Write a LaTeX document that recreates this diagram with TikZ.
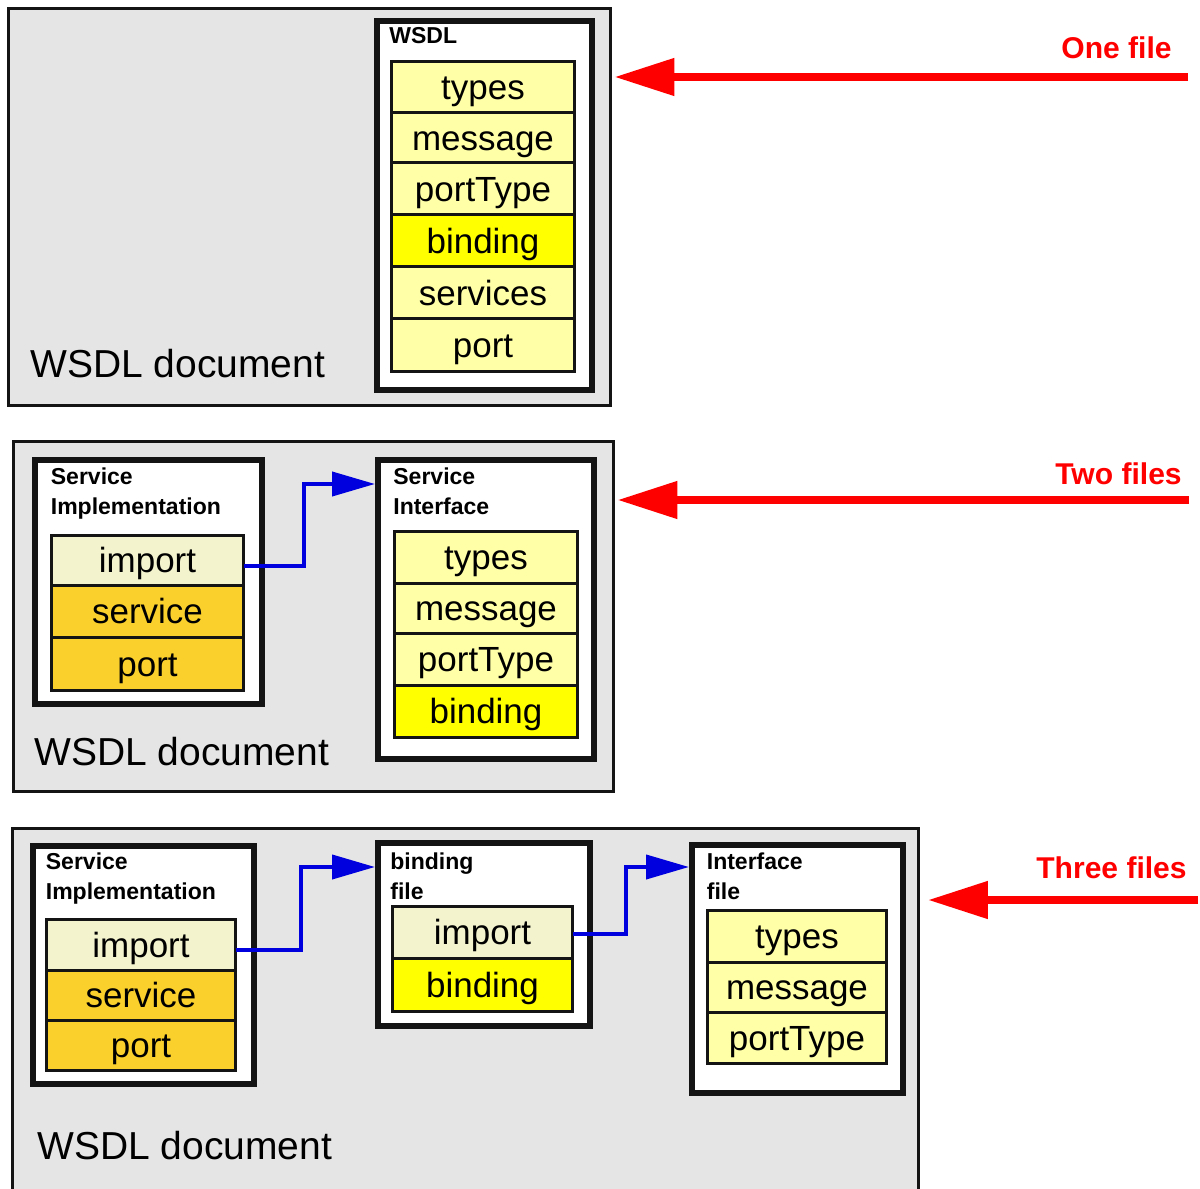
\documentclass[tikz,border=0pt]{standalone}
\usepackage{fontspec}
\setmainfont{Liberation Sans}
\usetikzlibrary{arrows.meta}

\definecolor{panelgray}{HTML}{E5E5E5}
\definecolor{edge}{HTML}{141414}
\definecolor{paleyellow}{HTML}{FFFFA8}
\definecolor{brightyellow}{HTML}{FFFF00}
\definecolor{importcol}{HTML}{F3F3CE}
\definecolor{servicecol}{HTML}{FAD02C}
\definecolor{linkblue}{RGB}{0,0,222}
\definecolor{tagred}{RGB}{255,0,0}

\newcommand\rowfont{\fontsize{19.9pt}{23pt}\selectfont}
\newcommand\lblfont{\fontsize{13.1pt}{16.8pt}\selectfont\bfseries}
\newcommand\docfont{\fontsize{22.2pt}{26pt}\selectfont}
\newcommand\tagfont{\fontsize{17.1pt}{20pt}\selectfont\bfseries}

% \mkbox{style}{name}{x1}{y1}{x2}{y2}{text}: rectangle node between two corners
\newcommand\mkbox[7]{%
  \node[#1, minimum width={(#5-#3)*0.02cm}, minimum height={(#6-#4)*0.02cm}]
    (#2) at ({(#3+#5)/2},{(#4+#6)/2}) {#7};}

\tikzset{
  panel/.style={draw=edge, fill=panelgray, line width=0.06cm, inner sep=0pt},
  filebox/.style={draw=edge, fill=white, line width=0.12cm, inner sep=0pt},
  row/.style={draw=edge, line width=0.06cm, inner sep=0pt, outer sep=0pt,
    font=\rowfont, text height=15.1pt, text depth=0.8pt},
  pale/.style={row, fill=paleyellow},
  bright/.style={row, fill=brightyellow},
  imp/.style={row, fill=importcol},
  srv/.style={row, fill=servicecol},
  lbl/.style={anchor=north west, inner sep=0pt, font=\lblfont, align=left},
  doclbl/.style={anchor=west, inner sep=0pt, font=\docfont},
  tag/.style={anchor=east, inner sep=0pt, font=\tagfont, text=tagred},
  link/.style={draw=linkblue, line width=0.08cm,
    -{Triangle[length=0.86cm, width=0.48cm]}},
  bigarrow/.style={draw=tagred, line width=0.16cm,
    -{Triangle[length=1.2cm, width=0.72cm]}},
}

\begin{document}
\begin{tikzpicture}[x=0.02cm, y=-0.02cm]
\useasboundingbox (0,0) rectangle (1200,1189);
\clip (0,0) rectangle (1200,1189);

% ---------- one file ----------
\mkbox{panel}{p1}{8.5}{8.5}{610.5}{405.5}{}
\mkbox{filebox}{f1}{377}{21}{592}{390}{}
\node[lbl] (f1lbl) at (389,27.5) {WSDL};
\mkbox{pale}{f1types}{391.5}{61.5}{574.5}{113}{types}
\mkbox{pale}{f1msg}{391.5}{113}{574.5}{163}{message}
\mkbox{pale}{f1pt}{391.5}{163}{574.5}{215}{portType}
\mkbox{bright}{f1bind}{391.5}{215}{574.5}{267}{binding}
\mkbox{pale}{f1svc}{391.5}{267}{574.5}{319}{services}
\mkbox{pale}{f1port}{391.5}{319}{574.5}{371.5}{port}
\node[doclbl] (p1doc) at (30,364) {WSDL document};

% ---------- two files ----------
\mkbox{panel}{p2}{13.5}{441.5}{613.5}{791.5}{}
\mkbox{filebox}{f2a}{35}{460}{262}{704}{}
\node[lbl] (f2albl) at (50.5,467.5) {Service\\Implementation};
\mkbox{imp}{f2aimp}{51.5}{535.5}{243.5}{585}{import}
\mkbox{srv}{f2asvc}{51.5}{585}{243.5}{637}{service}
\mkbox{srv}{f2aport}{51.5}{637}{243.5}{690.5}{port}

\mkbox{filebox}{f2b}{378}{460}{594}{759}{}
\node[lbl] (f2blbl) at (393,467.5) {Service\\Interface};
\mkbox{pale}{f2btypes}{394.5}{531.5}{577.5}{583}{types}
\mkbox{pale}{f2bmsg}{394.5}{583}{577.5}{633}{message}
\mkbox{pale}{f2bpt}{394.5}{633}{577.5}{685}{portType}
\mkbox{bright}{f2bbind}{394.5}{685}{577.5}{737.5}{binding}
\node[doclbl] (p2doc) at (34,752) {WSDL document};

\coordinate (k21) at (304,484);
\draw[link] ([yshift=-0.12cm]f2aimp.east) -| (k21) -- (f2b.west |- k21);

% ---------- three files ----------
\mkbox{panel}{p3}{12.5}{828.5}{918.5}{1250}{}
\mkbox{filebox}{f3a}{33}{846}{254}{1084}{}
\node[lbl] (f3albl) at (45.5,852.5) {Service\\Implementation};
\mkbox{imp}{f3aimp}{46.5}{919.5}{235.5}{970}{import}
\mkbox{srv}{f3asvc}{46.5}{970}{235.5}{1020}{service}
\mkbox{srv}{f3aport}{46.5}{1020}{235.5}{1070.5}{port}

\mkbox{filebox}{f3b}{378}{843}{590}{1026}{}
\node[lbl] (f3blbl) at (390,852.5) {binding\\file};
\mkbox{imp}{f3bimp}{392.5}{906.5}{572.5}{958}{import}
\mkbox{bright}{f3bbind}{392.5}{958}{572.5}{1011.5}{binding}

\mkbox{filebox}{f3c}{692}{845}{903}{1093}{}
\node[lbl] (f3clbl) at (706.5,852.5) {Interface\\file};
\mkbox{pale}{f3ctypes}{707.5}{910.5}{886.5}{962}{types}
\mkbox{pale}{f3cmsg}{707.5}{962}{886.5}{1012}{message}
\mkbox{pale}{f3cpt}{707.5}{1012}{886.5}{1063.5}{portType}
\node[doclbl] (p3doc) at (37,1146) {WSDL document};

\coordinate (k31) at (301,867);
\draw[link] ([yshift=-0.1cm]f3aimp.east) -| (k31) -- (f3b.west |- k31);
\coordinate (k32) at (626,867);
\draw[link] ([yshift=-0.04cm]f3bimp.east) -| (k32) -- (f3c.west |- k32);

% ---------- red pointers ----------
\node[tag] (t1) at (1172,48) {One file};
\coordinate (r1) at (1188,77);
\draw[bigarrow, shorten >=0.05cm] (r1) -- (p1.east |- r1);

\node[tag] (t2) at (1182,474) {Two files};
\coordinate (r2) at (1189,500);
\draw[bigarrow, shorten >=0.05cm] (r2) -- (p2.east |- r2);

\node[tag] (t3) at (1187,868) {Three files};
\coordinate (r3) at (1198,900);
\draw[bigarrow, shorten >=0.16cm] (r3) -- (p3.east |- r3);
\end{tikzpicture}
\end{document}
